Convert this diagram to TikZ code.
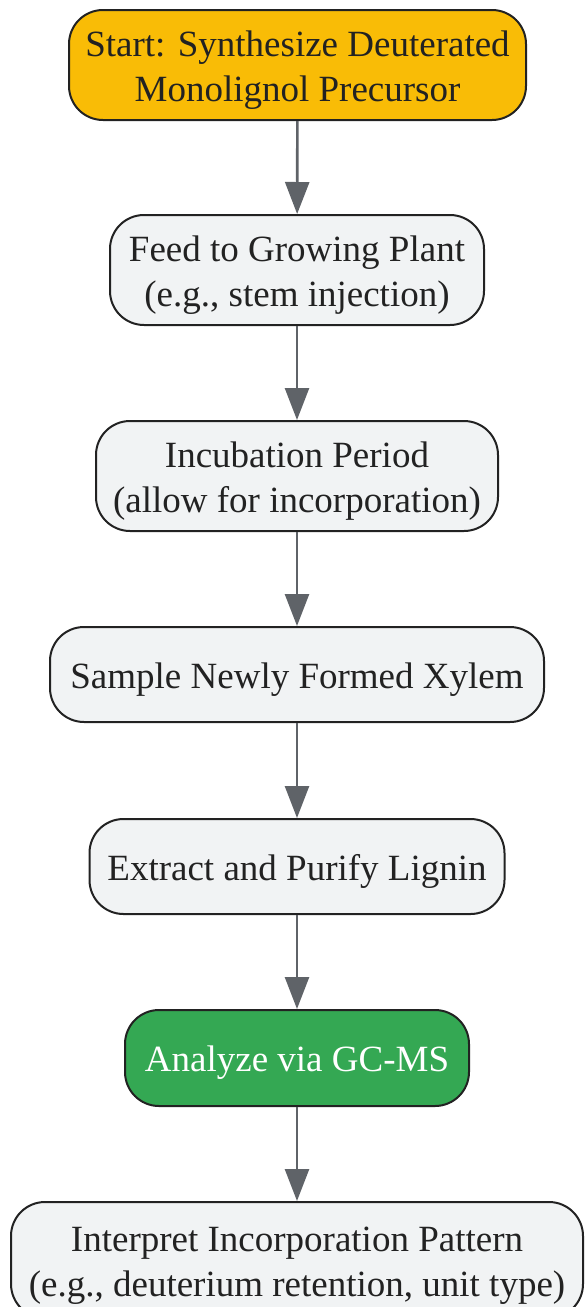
\documentclass[tikz,border=0pt]{standalone}
\usepackage{fontspec}
\setmainfont{Liberation Serif}
\usetikzlibrary{arrows.meta}
\definecolor{txt}{HTML}{222222}
\definecolor{edge}{HTML}{5F6368}
\definecolor{lightfill}{HTML}{F1F3F4}
\definecolor{startfill}{HTML}{F9BC06}
\definecolor{greenfill}{HTML}{34A853}
\newcommand{\twolines}[2]{\begin{tabular}{@{}c@{}}\rule{0pt}{42pt}#1\\#2\end{tabular}}
\tikzset{
  box/.style={draw=txt, line width=2pt, rounded corners=34pt, fill=lightfill,
    text=txt, align=center, inner sep=0pt,
    font=\fontsize{37}{45}\selectfont},
  oneline/.style={execute at begin node={\rule{0pt}{35pt}}},
  conn/.style={draw=edge, line width=2.6pt, -{Triangle[length=32pt,width=24pt]}}
}
\begin{document}
\begin{tikzpicture}[x=1pt,y=1pt]
\useasboundingbox (0,0) rectangle (584,-1307);
\clip (0,0) rectangle (584,-1307);
\node[box, fill=startfill, minimum width=457pt, minimum height=110pt] (n1) at (297.5,-65)
  {\twolines{Start: Synthesize Deuterated}{Monolignol Precursor}};
\node[box, minimum width=374pt, minimum height=110pt] (n2) at (297,-270)
  {\twolines{Feed to Growing Plant}{(e.g., stem injection)}};
\node[box, minimum width=402pt, minimum height=110pt] (n3) at (297,-476)
  {\twolines{Incubation Period}{(allow for incorporation)}};
\node[box, oneline, minimum width=494pt, minimum height=95pt] (n4) at (297,-674.5)
  {Sample Newly Formed Xylem};
\node[box, oneline, minimum width=415pt, minimum height=95pt] (n5) at (297,-866.5)
  {Extract and Purify Lignin};
\node[box, oneline, fill=greenfill, text=white, minimum width=344pt, minimum height=96pt] (n6) at (297,-1058)
  {Analyze via GC-MS};
\node[box, minimum width=572pt, minimum height=116pt] (n7) at (297,-1260)
  {\twolines{Interpret Incorporation Pattern}{(e.g., deuterium retention, unit type)}};
\draw[conn] (n1) -- (n2);
\draw[conn] (n2) -- (n3);
\draw[conn] (n3) -- (n4);
\draw[conn] (n4) -- (n5);
\draw[conn] (n5) -- (n6);
\draw[conn] (n6) -- (n7);
\end{tikzpicture}
\end{document}
